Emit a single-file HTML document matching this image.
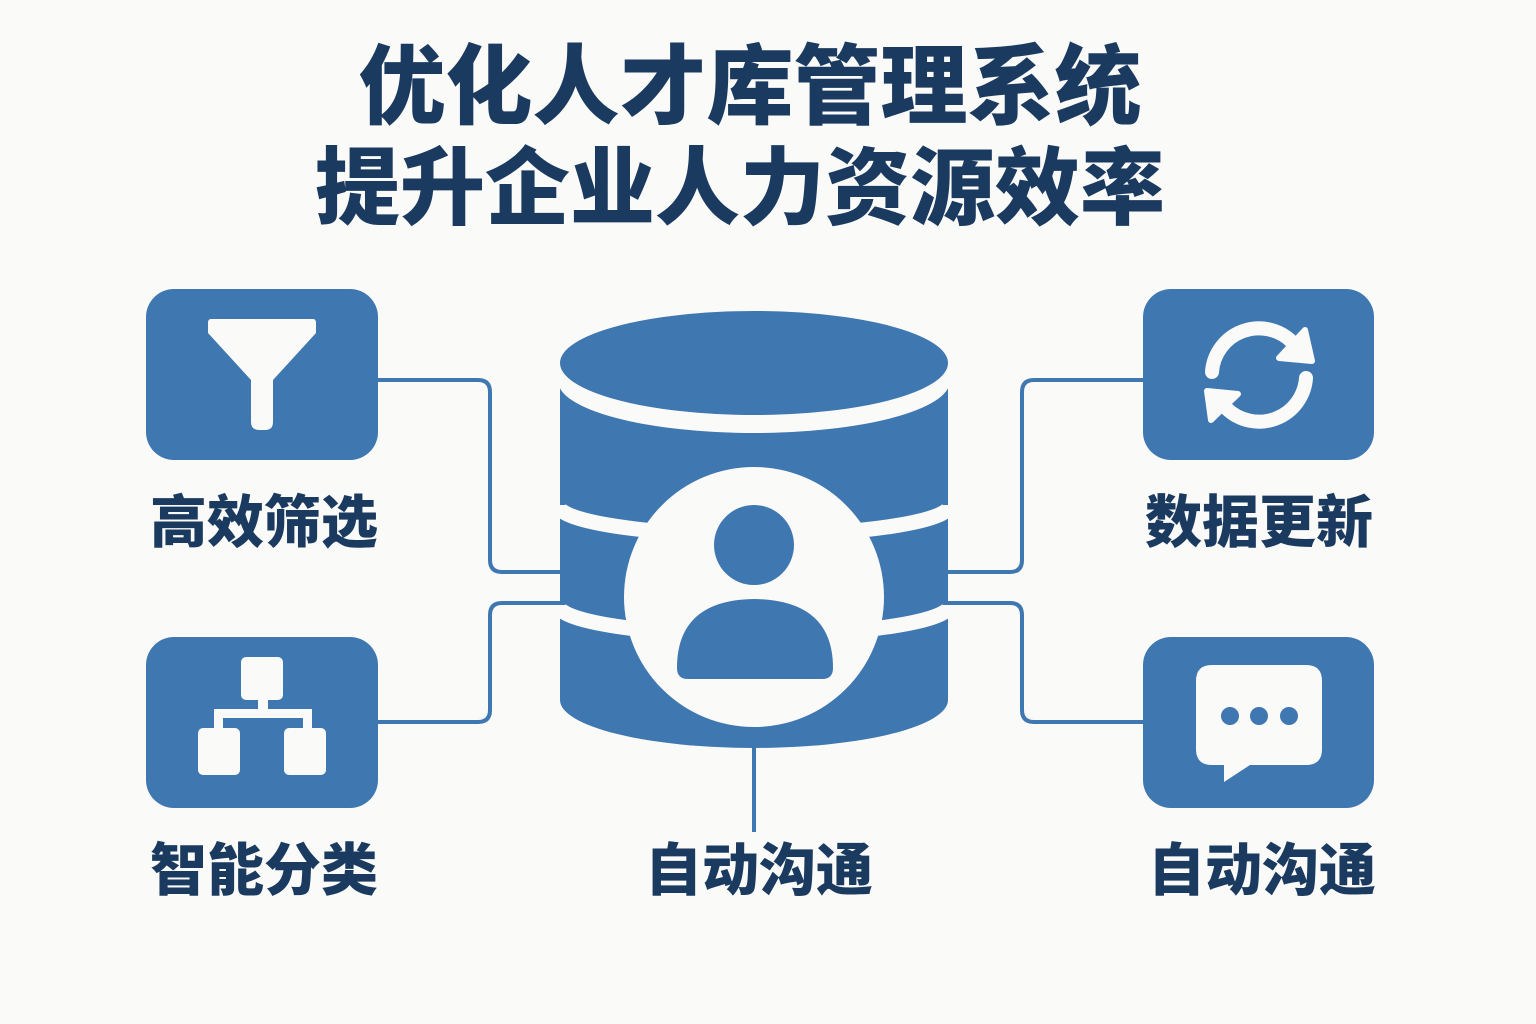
<!DOCTYPE html>
<html><head><meta charset="utf-8"><style>
html,body{margin:0;padding:0;background:#fafaf8;}
svg{display:block}
text{font-family:"Liberation Sans","Noto Sans CJK SC",sans-serif;font-weight:900;fill:#1b3a5f}
</style></head><body>
<svg width="1536" height="1024" viewBox="0 0 1536 1024">
<rect width="1536" height="1024" fill="#fafaf8"/>
<text x="750" y="117" font-size="87" text-anchor="middle">优化人才库管理系统</text>
<text x="740" y="218" font-size="85" text-anchor="middle">提升企业人力资源效率</text>

<g fill="none" stroke="#3f77b1" stroke-width="4">
<path d="M378,380 H478 Q490,380 490,392 V560 Q490,572 502,572 H562"/>
<path d="M562,603 H502 Q490,603 490,615 V710 Q490,722 478,722 H378"/>
<path d="M946,572 H1010 Q1022,572 1022,560 V392 Q1022,380 1034,380 H1145"/>
<path d="M946,603 H1010 Q1022,603 1022,615 V710 Q1022,722 1034,722 H1145"/>
<path d="M754,745 V832"/>
</g>

<!-- database -->
<path d="M560,380 H948 V700 A194,48 0 0 1 560,700 Z" fill="#3f77b1"/>
<ellipse cx="754" cy="381" rx="196" ry="52" fill="#fafaf8"/>
<ellipse cx="754" cy="363" rx="194" ry="52" fill="#3f77b1"/>
<path d="M558,505 A196,30 0 0 0 950,505" fill="none" stroke="#fafaf8" stroke-width="15"/>
<path d="M558,605 A196,30 0 0 0 950,605" fill="none" stroke="#fafaf8" stroke-width="15"/>
<circle cx="754" cy="597" r="130" fill="#fafaf8"/>
<circle cx="754" cy="545" r="40" fill="#3f77b1"/>
<path d="M677,668 Q677,600 754,599 Q833,600 833,668 Q833,679 822,679 H688 Q677,679 677,668 Z" fill="#3f77b1"/>

<!-- boxes -->
<rect x="146" y="289" width="232" height="171" rx="28" fill="#3f77b1"/>
<rect x="146" y="637" width="232" height="171" rx="28" fill="#3f77b1"/>
<rect x="1143" y="289" width="231" height="171" rx="28" fill="#3f77b1"/>
<rect x="1143" y="637" width="231" height="171" rx="28" fill="#3f77b1"/>

<!-- funnel -->
<path d="M211,319 H313 Q316,319 316,323 V333 L273,380 V422 Q273,430 265,430 H259 Q251,430 251,422 V380 L208,333 V323 Q208,319 211,319 Z" fill="#fafaf8"/>
<!-- hierarchy -->
<g fill="#fafaf8">
<rect x="241" y="657" width="42" height="43" rx="5"/>
<rect x="258" y="698" width="10" height="16"/>
<rect x="214" y="709" width="98" height="9"/>
<rect x="214" y="709" width="9" height="22"/>
<rect x="303" y="709" width="9" height="22"/>
<rect x="198" y="728" width="42" height="47" rx="5"/>
<rect x="284" y="728" width="42" height="47" rx="5"/>
</g>
<!-- refresh -->
<g fill="none" stroke="#fafaf8" stroke-width="14" stroke-linecap="round">
<path d="M1212,372 A47,47 0 0 1 1292,342"/>
<path d="M1306,378 A47,47 0 0 1 1226,408"/>
</g>
<path d="M1305,330 L1312,361 L1279,358 Z" fill="#fafaf8" stroke="#fafaf8" stroke-width="6" stroke-linejoin="round"/>
<path d="M1211,420 L1207,391 L1238,394 Z" fill="#fafaf8" stroke="#fafaf8" stroke-width="6" stroke-linejoin="round"/>
<!-- chat -->
<path d="M1212,665 H1306 Q1322,665 1322,681 V749 Q1322,765 1306,765 H1250 L1224,782 V765 H1212 Q1196,765 1196,749 V681 Q1196,665 1212,665 Z" fill="#fafaf8"/>
<g fill="#3f77b1"><circle cx="1230" cy="716" r="9"/><circle cx="1259" cy="716" r="9"/><circle cx="1289" cy="716" r="9"/></g>

<!-- labels -->
<g font-size="57">
<text x="264" y="542" text-anchor="middle">高效筛选</text>
<text x="264" y="890" text-anchor="middle">智能分类</text>
<text x="1259" y="542" text-anchor="middle">数据更新</text>
<text x="1262" y="890" text-anchor="middle">自动沟通</text>
<text x="759" y="890" text-anchor="middle">自动沟通</text>
</g>
</svg>
</body></html>
